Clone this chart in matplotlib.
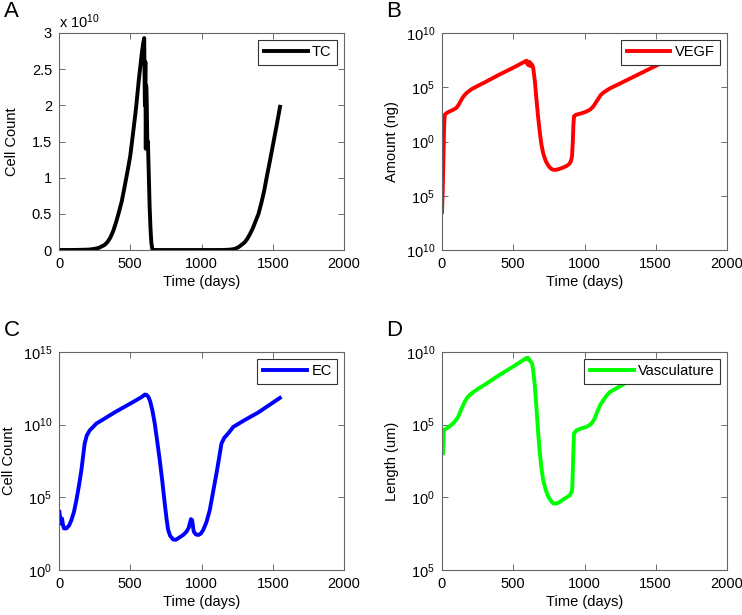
import numpy as np
import matplotlib
matplotlib.use("Agg")
from matplotlib import pyplot as plt

plt.rcParams['font.family'] = ['Liberation Sans', 'DejaVu Sans']
plt.rcParams['mathtext.default'] = 'regular'
plt.rcParams['font.size'] = 10.5

# --- data ---
# A: tumour cells (units of 1e10)
tc_t = [0, 100, 150, 200, 220, 240, 260, 280, 300, 320, 340, 360, 380, 400, 420, 440, 460,
        480, 500, 520, 540, 560, 580, 590, 598, 601, 603, 606, 609, 612, 616, 620, 624,
        630, 636, 642, 648, 654, 660, 1150, 1200, 1220, 1240, 1260, 1280, 1300, 1320, 1340,
        1360, 1380, 1400, 1420, 1440, 1457, 1480, 1506, 1530, 1551]
tc_v = [0, 0.0005, 0.002, 0.005, 0.008, 0.013, 0.02, 0.03, 0.05, 0.07, 0.11, 0.17, 0.26,
        0.38, 0.52, 0.67, 0.87, 1.08, 1.3, 1.62, 1.95, 2.35, 2.7, 2.85, 2.93, 2.3, 2.0,
        2.6, 1.4, 2.27, 2.0, 1.45, 1.5, 1.05, 0.6, 0.3, 0.1, 0.02, 0, 0, 0.005, 0.01, 0.02,
        0.04, 0.07, 0.1, 0.15, 0.22, 0.3, 0.4, 0.5, 0.65, 0.82, 1.0, 1.23, 1.5, 1.75, 1.98]

# B: VEGF, log10 of amount
vegf_t = [0, 5, 10, 15, 19, 30, 50, 75, 100, 115, 130, 145, 160, 175, 190, 205, 218, 250,
          300, 400, 500, 593, 600, 605, 612, 618, 625, 632, 640, 652, 663, 675, 687, 698,
          710, 720, 730, 745, 760, 775, 790, 805, 830, 850, 875, 895, 905, 912, 918, 922,
          926, 935, 945, 980, 1015, 1040, 1062, 1080, 1100, 1115, 1132, 1155, 1179, 1250,
          1350, 1450, 1550]
vegf_v = [-6.5, -4.5, -1.5, 1.5, 2.46, 2.6, 2.75, 2.9, 3.08, 3.35, 3.7, 4.05, 4.3, 4.5,
          4.65, 4.8, 4.9, 5.12, 5.45, 6.15, 6.8, 7.45, 7.1, 7.35, 7.0, 7.3, 6.95, 7.1, 6.8,
          5.5, 3.85, 2.2, 0.77, -0.3, -1.08, -1.5, -1.85, -2.2, -2.45, -2.58, -2.62, -2.6,
          -2.5, -2.4, -2.25, -2.05, -1.8, -1.4, 0.0, 1.5, 2.3, 2.42, 2.48, 2.6, 2.77, 2.95,
          3.23, 3.6, 4.0, 4.3, 4.5, 4.7, 4.9, 5.35, 6.0, 6.65, 7.3]

# C: endothelial cells, log10 of count
ec_t = [3, 8, 12, 17, 21, 28, 35, 51, 70, 87, 105, 122, 140, 157, 170, 180, 195, 215, 240,
        262, 300, 400, 500, 580, 602, 615, 628, 640, 655, 672, 690, 707, 725, 742, 755,
        766, 780, 801, 820, 836, 870, 895, 910, 918, 926, 934, 940, 946, 960, 977, 995,
        1012, 1035, 1058, 1080, 1105, 1125, 1140, 1160, 1176, 1200, 1222, 1300, 1400, 1550]
ec_v = [4.0, 3.6, 3.2, 3.4, 3.54, 3.1, 2.86, 2.86, 3.05, 3.43, 4.0, 4.8, 5.8, 6.87, 7.9,
        8.7, 9.25, 9.6, 9.85, 10.08, 10.3, 10.9, 11.45, 11.9, 12.07, 12.05, 11.9, 11.6,
        11.0, 10.08, 8.8, 7.56, 6.1, 4.58, 3.5, 2.75, 2.35, 2.1, 2.08, 2.18, 2.4, 2.64,
        2.9, 3.2, 3.5, 3.43, 3.0, 2.64, 2.45, 2.41, 2.5, 2.75, 3.3, 4.12, 5.3, 6.64, 7.8,
        8.7, 9.1, 9.27, 9.55, 9.84, 10.3, 10.85, 11.84]

# D: vasculature, log10 of length
vas_t = [0, 7, 10, 12, 20, 30, 55, 77, 95, 113, 135, 159, 180, 206, 250, 300, 400, 500,
         593, 600, 605, 610, 617, 625, 632, 640, 652, 664, 675, 687, 698, 710, 728, 746,
         765, 781, 804, 830, 850, 875, 898, 910, 914, 920, 926, 945, 980, 1015, 1050, 1070,
         1090, 1110, 1132, 1155, 1179, 1250, 1320, 1550]
vas_v = [3.02, 3.0, 3.6, 4.6, 4.68, 4.73, 4.9, 5.08, 5.28, 5.53, 6.05, 6.57, 6.9, 7.14,
         7.45, 7.75, 8.4, 9.0, 9.59, 9.5, 9.6, 9.45, 9.43, 9.3, 9.2, 8.74, 7.6, 5.99, 4.4,
         3.0, 2.0, 1.18, 0.5, 0.04, -0.25, -0.42, -0.42, -0.3, -0.15, 0.0, 0.15, 0.4, 0.61,
         2.5, 4.39, 4.62, 4.75, 4.85, 5.08, 5.4, 5.9, 6.35, 6.68, 7.0, 7.25, 7.65, 8.05, 9.3]

day_ticks = [0, 500, 1000, 1500, 2000]

fig = plt.figure(figsize=(7.42, 6.15), dpi=100)
W, H = 742.0, 615.0

def make_ax(l, r, t, b):
    ax = fig.add_axes([l / W, 1 - b / H, (r - l) / W, (b - t) / H])
    ax.tick_params(direction='in', top=True, right=True, length=4, width=0.6,
                   color='#555555', labelsize=10.5, pad=5)
    for s in ax.spines.values():
        s.set_color('#666666')
        s.set_linewidth(0.8)
    ax.set_xlim(0, 2000)
    ax.set_xticks(day_ticks)
    ax.set_xlabel('Time (days)', labelpad=3)
    return ax

def legend(ax):
    leg = ax.legend(loc='upper right', handlelength=3.0, fancybox=False, framealpha=1,
                    borderaxespad=0.45, fontsize=10.5, borderpad=0.4, handletextpad=0.3)
    leg.get_frame().set_edgecolor('#333333')
    leg.get_frame().set_linewidth(0.8)

def log_ticks(ax, vals, labels):
    ax.set_yticks(vals)
    ax.set_yticklabels(labels)
    ax.minorticks_off()

lw = 2.8

# A
ax = make_ax(59, 344, 33, 250)
ax.plot(tc_t, tc_v, color='black', lw=lw, label='TC')
ax.set_ylim(0, 3)
ax.set_yticks([0, 0.5, 1, 1.5, 2, 2.5, 3])
ax.set_yticklabels(['0', '0.5', '1', '1.5', '2', '2.5', '3'])
ax.set_ylabel('Cell Count', labelpad=9)
ax.text(0.0, 1.01, 'x 10$^{10}$', transform=ax.transAxes, fontsize=10.5, va='bottom')
legend(ax)
fig.text(4 / W, 1 - 1 / H, 'A', fontsize=16, va='top', ha='left')

# B
ax = make_ax(442, 727, 33, 250)
ax.plot(vegf_t, vegf_v, color='red', lw=lw, label='VEGF')
ax.set_ylim(-10, 10)
log_ticks(ax, [-10, -5, 0, 5, 10],
          ['$10^{10}$', '$10^{5}$', '$10^{0}$', '$10^{5}$', '$10^{10}$'])
ax.set_ylabel('Amount (ng)', labelpad=5)
legend(ax)
fig.text(386 / W, 1 - 1 / H, 'B', fontsize=16, va='top', ha='left')

# C
ax = make_ax(59, 344, 352, 570)
ax.plot(ec_t, ec_v, color='blue', lw=lw, label='EC')
ax.set_ylim(0, 15)
log_ticks(ax, [0, 5, 10, 15], ['$10^{0}$', '$10^{5}$', '$10^{10}$', '$10^{15}$'])
ax.set_ylabel('Cell Count', labelpad=5)
legend(ax)
fig.text(4 / W, 1 - 320 / H, 'C', fontsize=16, va='top', ha='left')

# D
ax = make_ax(442, 727, 352, 570)
ax.plot(vas_t, vas_v, color='#00ff00', lw=lw, label='Vasculature')
ax.set_ylim(-5, 10)
log_ticks(ax, [-5, 0, 5, 10], ['$10^{5}$', '$10^{0}$', '$10^{5}$', '$10^{10}$'])
ax.set_ylabel('Length (um)', labelpad=5)
legend(ax)
fig.text(386 / W, 1 - 320 / H, 'D', fontsize=16, va='top', ha='left')

fig.savefig('out.png', dpi=100)
